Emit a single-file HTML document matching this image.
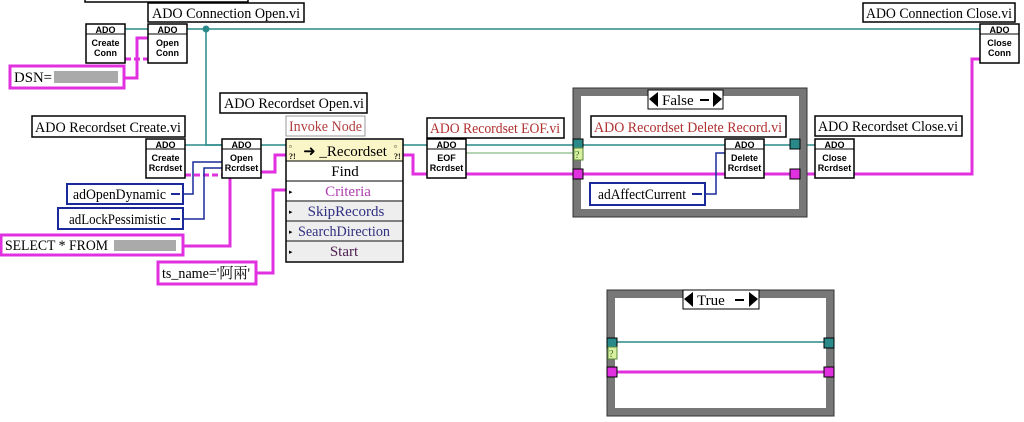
<!DOCTYPE html>
<html><head><meta charset="utf-8"><style>
html,body{margin:0;padding:0;background:#fff;width:1024px;height:422px;overflow:hidden}
svg text{font-family:"Liberation Serif","Noto Serif CJK SC",serif}
svg .n text{font-family:"Liberation Sans",sans-serif;font-size:9px;font-weight:bold}
</style></head><body>
<svg width="1024" height="422" viewBox="0 0 1024 422" xmlns="http://www.w3.org/2000/svg">
<defs>
<g id="nd"><rect x="0" y="0" width="39" height="39" fill="#fff" stroke="#000" stroke-width="1.5"/><line x1="0" y1="10" x2="39" y2="10" stroke="#000"/></g>
</defs>
<rect x="85" y="-2" width="163" height="4" fill="#fff" stroke="#000" stroke-width="1.5"/>
<g stroke="#2a8a8a" stroke-width="1.5" fill="none">
<line x1="125" y1="29" x2="148" y2="29"/>
<line x1="187" y1="29" x2="980" y2="29"/>
<polyline points="206,29 206,145 222,145"/>
<line x1="185" y1="145" x2="222" y2="145"/>
<line x1="261" y1="145" x2="286" y2="145"/>
<line x1="403" y1="145" x2="427" y2="145"/>
<line x1="466" y1="145" x2="573" y2="145"/>
<line x1="581" y1="145" x2="725" y2="145"/>
<line x1="764" y1="145" x2="790" y2="145"/>
<line x1="798" y1="145" x2="815" y2="145"/>
<line x1="615" y1="342" x2="824" y2="342"/>
</g>
<line x1="466" y1="153" x2="575" y2="153" stroke="#6aa86a" stroke-width="1"/>
<circle cx="206" cy="29" r="3.5" fill="#2a8a8a"/>
<g stroke="#e030e0" stroke-width="3" fill="none">
<polyline points="124,78 137,78 137,38 148,38"/>
<line x1="125" y1="59" x2="148" y2="59" stroke-dasharray="6,3"/>
<line x1="185" y1="175" x2="222" y2="175" stroke-dasharray="6,3"/>
<polyline points="261,172 275,172 275,155 286,155"/>
<polyline points="183,246 230,246 230,177 222,177"/>
<polyline points="256,273 273,273 273,190 286,190"/>
<polyline points="403,155 413,155 413,174 427,174"/>
<line x1="466" y1="174" x2="573" y2="174"/>
<line x1="581" y1="174" x2="790" y2="174"/>
<polyline points="798,174 972,174 972,59 980,59"/>
<line x1="615" y1="372" x2="824" y2="372"/>
</g>
<g stroke="#1a2a9a" stroke-width="1.5" fill="none">
<polyline points="183,194 193,194 193,162 222,162"/>
<polyline points="183,219 204,219 204,168 222,168"/>
<polyline points="705,194 716,194 716,153 725,153"/>
</g>
<g font-size="15">
<rect x="148" y="3" width="156" height="19" fill="#fff" stroke="#000" stroke-width="1.5"/><text x="152" y="18" textLength="148" lengthAdjust="spacingAndGlyphs">ADO Connection Open.vi</text>
<rect x="863" y="3" width="152" height="19" fill="#fff" stroke="#000" stroke-width="1.5"/><text x="866" y="18" textLength="146" lengthAdjust="spacingAndGlyphs">ADO Connection Close.vi</text>
<rect x="220" y="93" width="147" height="20" fill="#fff" stroke="#000" stroke-width="1.5"/><text x="224" y="108" textLength="140" lengthAdjust="spacingAndGlyphs">ADO Recordset Open.vi</text>
<rect x="286" y="116" width="79" height="20" fill="#fff" stroke="#999" stroke-width="1"/><text x="289" y="131" fill="#b04040" textLength="73" lengthAdjust="spacingAndGlyphs">Invoke Node</text>
<rect x="32" y="116" width="153" height="21" fill="#fff" stroke="#000" stroke-width="1.5"/><text x="35" y="132" textLength="146" lengthAdjust="spacingAndGlyphs">ADO Recordset Create.vi</text>
<rect x="427" y="118" width="137" height="20" fill="#fff" stroke="#000" stroke-width="1.5"/><text x="430" y="133" fill="#b03030" textLength="130" lengthAdjust="spacingAndGlyphs">ADO Recordset EOF.vi</text>
<rect x="591" y="116" width="195" height="21" fill="#fff" stroke="#000" stroke-width="1.5"/><text x="594" y="132" fill="#b03030" textLength="188" lengthAdjust="spacingAndGlyphs">ADO Recordset Delete Record.vi</text>
<rect x="815" y="116" width="147" height="20" fill="#fff" stroke="#000" stroke-width="1.5"/><text x="818" y="131" textLength="140" lengthAdjust="spacingAndGlyphs">ADO Recordset Close.vi</text>
<rect x="10" y="66" width="114" height="22" fill="#fff" stroke="#e030e0" stroke-width="3"/><text x="14" y="82" textLength="38" lengthAdjust="spacingAndGlyphs">DSN=</text><rect x="54" y="71" width="64" height="12" fill="#aaa"/>
<rect x="67" y="184" width="116" height="20" fill="#fff" stroke="#1a2a9a" stroke-width="2"/><text x="73" y="199" textLength="93" lengthAdjust="spacingAndGlyphs">adOpenDynamic</text><line x1="171" y1="194" x2="180" y2="194" stroke="#1a2a9a" stroke-width="2"/>
<rect x="58" y="208" width="125" height="21" fill="#fff" stroke="#1a2a9a" stroke-width="2"/><text x="69" y="224" textLength="97" lengthAdjust="spacingAndGlyphs">adLockPessimistic</text><line x1="171" y1="219" x2="180" y2="219" stroke="#1a2a9a" stroke-width="2"/>
<rect x="1" y="235" width="182" height="20" fill="#fff" stroke="#e030e0" stroke-width="3"/><text x="5" y="250" textLength="103" lengthAdjust="spacingAndGlyphs">SELECT * FROM</text><rect x="114" y="240" width="62" height="11" fill="#aaa"/>
<rect x="158" y="262" width="98" height="22" fill="#fff" stroke="#e030e0" stroke-width="3"/><text x="162" y="278" textLength="88" lengthAdjust="spacingAndGlyphs">ts_name='阿兩'</text>
<rect x="590" y="183" width="115" height="22" fill="#fff" stroke="#1a2a9a" stroke-width="2"/><text x="598" y="199" textLength="88" lengthAdjust="spacingAndGlyphs">adAffectCurrent</text><line x1="692" y1="194" x2="702" y2="194" stroke="#1a2a9a" stroke-width="2"/>
</g>
<g class="n" text-anchor="middle">
<use href="#nd" x="86" y="24"/><text x="105.5" y="33">ADO</text><text x="105.5" y="46">Create</text><text x="105.5" y="56">Conn</text>
<use href="#nd" x="148" y="24"/><text x="167.5" y="33">ADO</text><text x="167.5" y="46">Open</text><text x="167.5" y="56">Conn</text>
<use href="#nd" x="980" y="24"/><text x="999.5" y="33">ADO</text><text x="999.5" y="46">Close</text><text x="999.5" y="56">Conn</text>
<use href="#nd" x="146" y="139"/><text x="165.5" y="148">ADO</text><text x="165.5" y="161">Create</text><text x="165.5" y="171">Rcrdset</text>
<use href="#nd" x="222" y="139"/><text x="241.5" y="148">ADO</text><text x="241.5" y="161">Open</text><text x="241.5" y="171">Rcrdset</text>
<use href="#nd" x="427" y="139"/><text x="446.5" y="148">ADO</text><text x="446.5" y="161">EOF</text><text x="446.5" y="171">Rcrdset</text>
<use href="#nd" x="725" y="139"/><text x="744.5" y="148">ADO</text><text x="744.5" y="161">Delete</text><text x="744.5" y="171">Rcrdset</text>
<use href="#nd" x="815" y="139"/><text x="834.5" y="148">ADO</text><text x="834.5" y="161">Close</text><text x="834.5" y="171">Rcrdset</text>
</g>
<rect x="286" y="139" width="117" height="123" fill="#fff" stroke="#000" stroke-width="1.5"/>
<rect x="287" y="140" width="115" height="21" fill="#fbf6c8"/>
<g stroke="#000" stroke-width="1"><line x1="286" y1="161" x2="403" y2="161"/><line x1="286" y1="181" x2="403" y2="181"/><line x1="286" y1="201" x2="403" y2="201"/><line x1="286" y1="221" x2="403" y2="221"/><line x1="286" y1="241" x2="403" y2="241"/></g>
<rect x="287" y="202" width="115" height="18" fill="#eee"/><rect x="287" y="222" width="115" height="18" fill="#eee"/><rect x="287" y="242" width="115" height="19" fill="#eee"/>
<g font-size="15" text-anchor="middle">
<text x="345" y="156">➜ _Recordset</text>
<text x="345" y="176">Find</text>
<text x="348" y="196" fill="#b040b0">Criteria</text>
<text x="346" y="216" fill="#303080">SkipRecords</text>
<text x="344" y="236" fill="#303080" textLength="92" lengthAdjust="spacingAndGlyphs">SearchDirection</text>
<text x="344" y="256" fill="#502050">Start</text>
</g>
<g fill="#000" font-size="8" font-weight="bold"><text x="289" y="149">▫</text><text x="394" y="149">▫</text><text x="289" y="159">?!</text><text x="394" y="159">?!</text></g>
<g fill="#000" font-size="7"><text x="289" y="194">▸</text><text x="289" y="214">▸</text><text x="289" y="234">▸</text><text x="289" y="254">▸</text></g>
<rect x="577" y="92" width="226" height="121" fill="none" stroke="#777" stroke-width="8"/>
<rect x="573" y="88" width="234" height="129" fill="none" stroke="#333" stroke-width="1"/>
<rect x="648" y="90" width="75" height="19" fill="#fff" stroke="#000"/>
<text x="662" y="105" font-size="15">False</text>
<polygon points="649,99 658,92 658,107" fill="#000"/><polygon points="722,99 713,92 713,107" fill="#000"/>
<line x1="700" y1="100" x2="709" y2="100" stroke="#000" stroke-width="2"/>
<rect x="573" y="139" width="10" height="10" fill="#2a8a8a" stroke="#000"/>
<rect x="574" y="148" width="9" height="12" fill="#d8f0a0" stroke="#5a8a3a"/><text x="575" y="158" font-size="10" fill="#3a6a2a">?</text>
<rect x="573" y="169" width="10" height="10" fill="#e030e0" stroke="#000"/>
<rect x="790" y="139" width="10" height="10" fill="#2a8a8a" stroke="#000"/>
<rect x="790" y="169" width="10" height="10" fill="#e030e0" stroke="#000"/>
<rect x="611" y="294" width="219" height="118" fill="none" stroke="#777" stroke-width="8"/>
<rect x="607" y="290" width="227" height="126" fill="none" stroke="#333" stroke-width="1"/>
<rect x="683" y="290" width="76" height="19" fill="#fff" stroke="#000"/>
<text x="697" y="305" font-size="15">True</text>
<polygon points="684,299 693,292 693,307" fill="#000"/><polygon points="758,299 749,292 749,307" fill="#000"/>
<line x1="735" y1="300" x2="744" y2="300" stroke="#000" stroke-width="2"/>
<rect x="607" y="338" width="10" height="10" fill="#2a8a8a" stroke="#000"/>
<rect x="608" y="347" width="9" height="12" fill="#d8f0a0" stroke="#5a8a3a"/><text x="609" y="357" font-size="10" fill="#3a6a2a">?</text>
<rect x="607" y="367" width="10" height="10" fill="#e030e0" stroke="#000"/>
<rect x="824" y="338" width="10" height="10" fill="#2a8a8a" stroke="#000"/>
<rect x="824" y="367" width="10" height="10" fill="#e030e0" stroke="#000"/>
</svg>
</body></html>
